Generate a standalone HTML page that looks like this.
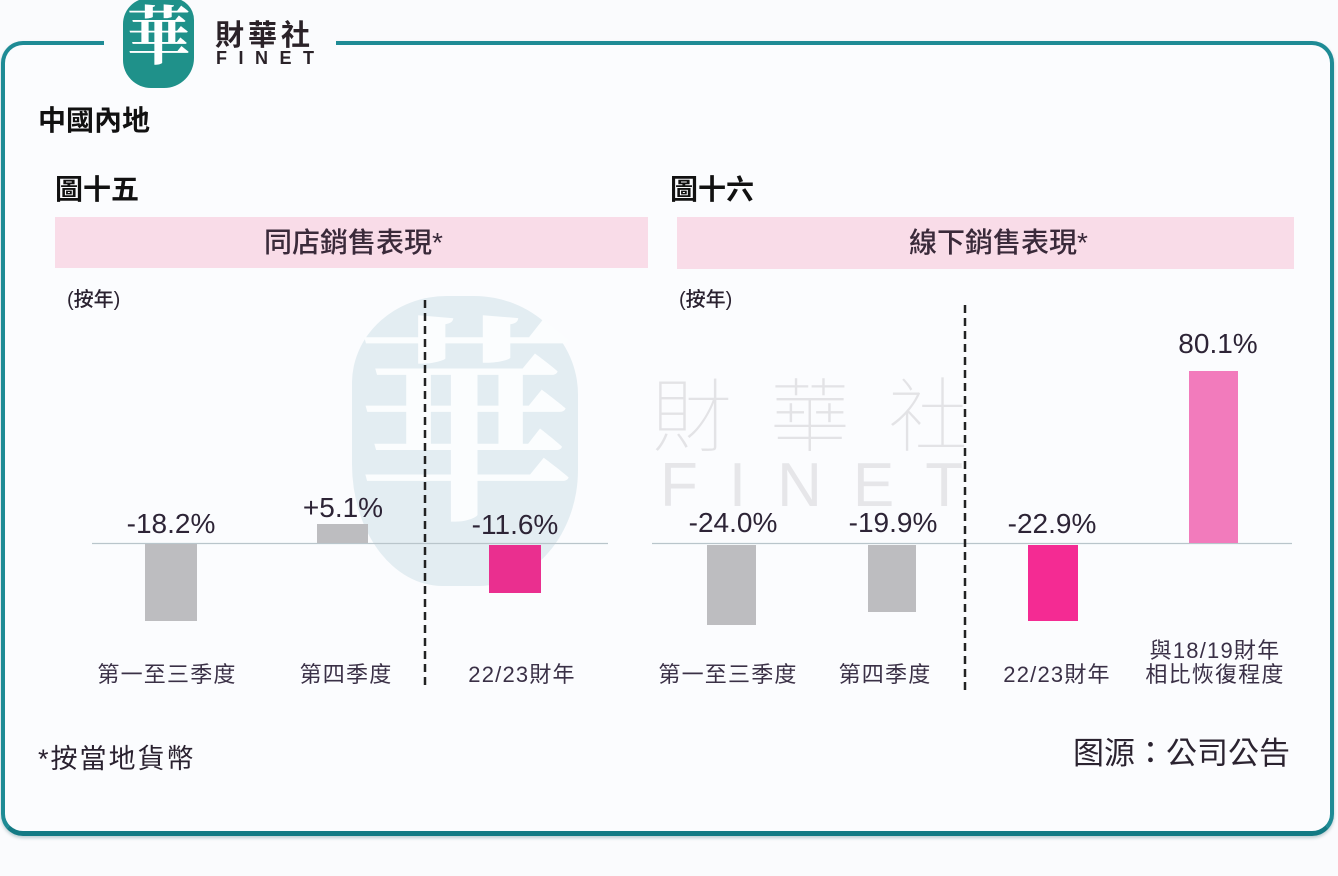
<!DOCTYPE html>
<html><head><meta charset="utf-8">
<style>
html,body{margin:0;padding:0;}
body{width:1338px;height:876px;background:#fafbfd;position:relative;overflow:hidden;font-family:"Liberation Sans","Noto Sans CJK TC",sans-serif;color:#2d2436;}
.a{position:absolute;}
.t{position:absolute;white-space:nowrap;line-height:1;}
.val{font-size:28px;color:#2d2436;width:140px;text-align:center;}
.cat{font-size:22px;color:#3a3046;letter-spacing:1.2px;width:200px;text-align:center;}
.bar{position:absolute;}
.g{background:#bdbdc0;}
</style></head><body>

<!-- frame -->
<div class="a" style="left:1px;top:41px;width:1325px;height:786px;border:4px solid #1e8b95;border-bottom-width:5px;border-bottom-color:#137a84;border-radius:22px;box-shadow:0 2px 3px rgba(0,70,80,0.25);background:#fbfcfe;"></div>
<div class="a" style="left:104px;top:36px;width:232px;height:14px;background:#fafbfd;"></div>

<!-- logo -->
<div class="a" style="left:123px;top:-2px;width:71px;height:90px;background:#1f918a;border-radius:26px 22px 30px 28px;"></div>
<div class="t" style="left:123px;top:6px;width:71px;text-align:center;font-size:64px;color:#fff;font-family:'Liberation Serif','Noto Serif CJK SC',serif;font-weight:bold;">華</div>
<div class="t" style="left:215px;top:22px;font-size:29px;font-weight:bold;color:#2a2228;letter-spacing:4px;">財華社</div>
<div class="t" style="left:216px;top:49px;font-size:18px;font-weight:bold;color:#2a2228;letter-spacing:11.5px;">FINET</div>

<!-- watermarks -->
<div class="a" style="left:352px;top:296px;width:226px;height:290px;background:#e3edf2;border-radius:42% 46% 44% 40% / 30% 34% 40% 42%;"></div>
<div class="t" style="left:352px;top:318px;width:226px;text-align:center;font-size:220px;color:#fbfdfe;font-family:'Liberation Serif','Noto Serif CJK SC',serif;font-weight:bold;">華</div>
<div class="t" style="left:652px;top:378px;font-size:80px;color:#e3e3e6;letter-spacing:38px;font-weight:100;">財華社</div>
<div class="t" style="left:660px;top:455px;font-size:62px;color:#e6e6e9;letter-spacing:31px;font-weight:normal;">FINET</div>

<!-- titles -->
<div class="t" style="left:38px;top:107px;font-size:28px;font-weight:bold;color:#111;">中國內地</div>
<div class="t" style="left:55px;top:176px;font-size:28px;font-weight:bold;color:#111;">圖十五</div>
<div class="t" style="left:670px;top:176px;font-size:28px;font-weight:bold;color:#111;">圖十六</div>

<!-- pink header boxes -->
<div class="a" style="left:55px;top:217px;width:593px;height:51px;background:#f9dce8;"></div>
<div class="a" style="left:677px;top:217px;width:617px;height:52px;background:#f9dce8;"></div>
<div class="t" style="left:264px;top:229px;font-size:28px;font-weight:500;color:#3a2a3a;">同店銷售表現*</div>
<div class="t" style="left:909px;top:229px;font-size:28px;font-weight:500;color:#3a2a3a;">線下銷售表現*</div>

<div class="t" style="left:67px;top:290px;font-size:20px;font-weight:500;color:#2a2230;">(按年)</div>
<div class="t" style="left:679px;top:290px;font-size:20px;font-weight:500;color:#2a2230;">(按年)</div>

<!-- baselines & dashed dividers -->
<svg class="a" style="left:0;top:0;" width="1338" height="876">
<line x1="92" y1="543.5" x2="608" y2="543.5" stroke="#b9c5cb" stroke-width="1.3"/>
<line x1="652" y1="543.5" x2="1292" y2="543.5" stroke="#b9c5cb" stroke-width="1.3"/>
<line x1="425" y1="300" x2="425" y2="688" stroke="#222" stroke-width="2.5" stroke-dasharray="8 5"/>
<line x1="965" y1="305" x2="965" y2="690" stroke="#222" stroke-width="2.5" stroke-dasharray="8 5"/>
</svg>

<!-- left bars -->
<div class="bar g" style="left:145px;top:544px;width:52px;height:77px;"></div>
<div class="bar g" style="left:317px;top:524px;width:51px;height:19px;"></div>
<div class="bar" style="left:489px;top:545px;width:52px;height:48px;background:#ea2f8f;"></div>

<!-- right bars -->
<div class="bar g" style="left:707px;top:545px;width:49px;height:80px;"></div>
<div class="bar g" style="left:868px;top:545px;width:48px;height:67px;"></div>
<div class="bar" style="left:1028px;top:545px;width:50px;height:76px;background:#f42b93;"></div>
<div class="bar" style="left:1189px;top:371px;width:49px;height:172px;background:#f27bbc;"></div>

<!-- value labels -->
<div class="t val" style="left:101px;top:510px;">-18.2%</div>
<div class="t val" style="left:273px;top:494px;">+5.1%</div>
<div class="t val" style="left:445px;top:511px;">-11.6%</div>
<div class="t val" style="left:663px;top:509px;">-24.0%</div>
<div class="t val" style="left:823px;top:509px;">-19.9%</div>
<div class="t val" style="left:982px;top:510px;">-22.9%</div>
<div class="t val" style="left:1148px;top:330px;">80.1%</div>

<!-- category labels -->
<div class="t cat" style="left:67px;top:664px;">第一至三季度</div>
<div class="t cat" style="left:246px;top:664px;">第四季度</div>
<div class="t cat" style="left:422px;top:664px;">22/23財年</div>
<div class="t cat" style="left:628px;top:664px;">第一至三季度</div>
<div class="t cat" style="left:785px;top:664px;">第四季度</div>
<div class="t cat" style="left:957px;top:664px;">22/23財年</div>
<div class="t cat" style="left:1115px;top:640px;">與18/19財年</div>
<div class="t cat" style="left:1115px;top:664px;">相比恢復程度</div>

<!-- footer -->
<div class="t" style="left:38px;top:746px;font-size:27px;color:#2a2230;letter-spacing:2px;">*按當地貨幣</div>
<div class="t" style="left:1073px;top:738px;font-size:31px;color:#2b2330;">图源：公司公告</div>

</body></html>
